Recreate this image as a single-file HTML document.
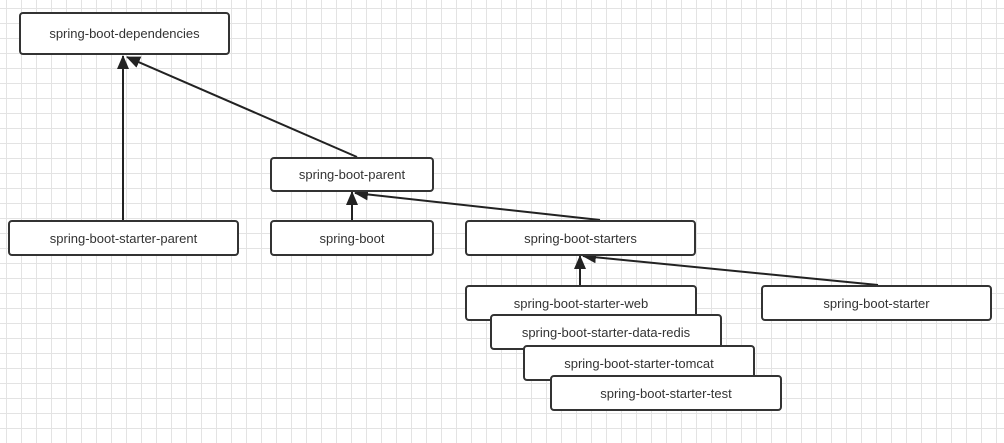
<!DOCTYPE html>
<html><head><style>
body{margin:0;width:1004px;height:443px;overflow:hidden;background:#fff;
background-image:linear-gradient(#e3e3e3 1px,transparent 1px),linear-gradient(90deg,#e3e3e3 1px,transparent 1px);background-size:15px 15px;background-position:6px 8px;font-family:"Liberation Sans",sans-serif}
.b{position:absolute;box-sizing:border-box;border:2px solid #333;border-radius:4px;background:#fff;display:flex;align-items:center;justify-content:center;font-size:13px;color:#333}
svg{position:absolute;left:0;top:0}
</style></head><body>
<svg width="1004" height="443">
<defs><marker id="a" markerWidth="14" markerHeight="12" refX="13" refY="6" orient="auto" markerUnits="userSpaceOnUse"><path d="M0,0 L14,6 L0,12 z" fill="#222"/></marker></defs>
<g stroke="#222" stroke-width="2" marker-end="url(#a)">
<line x1="123" y1="220" x2="123" y2="56"/>
<line x1="357" y1="157" x2="127" y2="57"/>
<line x1="352" y1="220" x2="352" y2="192"/>
<line x1="600" y1="220" x2="355" y2="193"/>
<line x1="580" y1="285" x2="580" y2="256"/>
<line x1="878" y1="285" x2="583" y2="256"/>
</g></svg>
<div class="b" style="left:19px;top:12px;width:211px;height:43px">spring-boot-dependencies</div>
<div class="b" style="left:8px;top:220px;width:231px;height:36px">spring-boot-starter-parent</div>
<div class="b" style="left:270px;top:157px;width:164px;height:35px">spring-boot-parent</div>
<div class="b" style="left:270px;top:220px;width:164px;height:36px">spring-boot</div>
<div class="b" style="left:465px;top:220px;width:231px;height:36px">spring-boot-starters</div>
<div class="b" style="left:465px;top:285px;width:232px;height:36px">spring-boot-starter-web</div>
<div class="b" style="left:490px;top:314px;width:232px;height:36px">spring-boot-starter-data-redis</div>
<div class="b" style="left:523px;top:345px;width:232px;height:36px">spring-boot-starter-tomcat</div>
<div class="b" style="left:550px;top:375px;width:232px;height:36px">spring-boot-starter-test</div>
<div class="b" style="left:761px;top:285px;width:231px;height:36px">spring-boot-starter</div>
</body></html>
